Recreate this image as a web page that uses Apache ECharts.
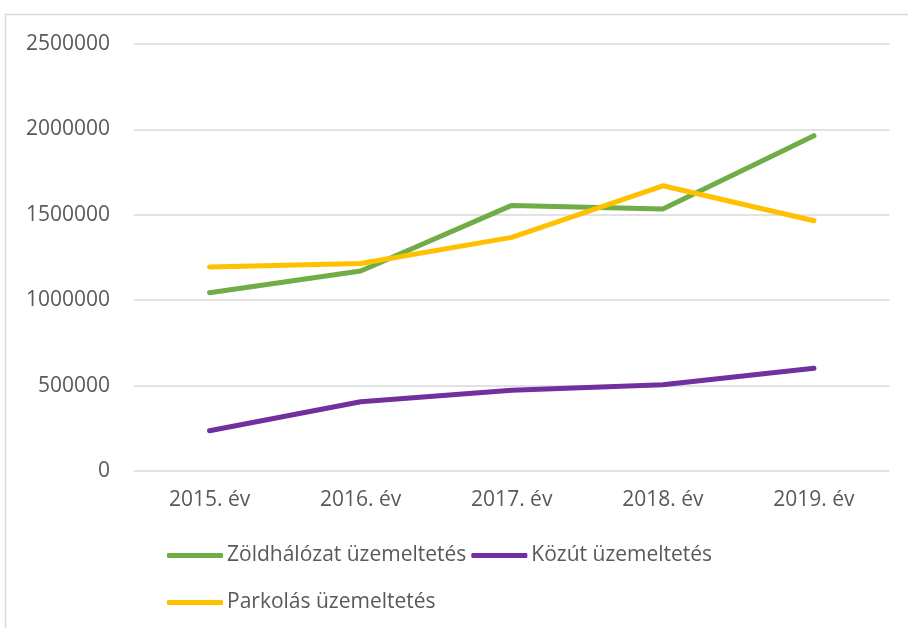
<!DOCTYPE html>
<html><head><meta charset="utf-8">
<script src="https://cdn.jsdelivr.net/npm/echarts@6/dist/echarts.min.js"></script>
<style>html,body{margin:0;padding:0;background:#fff}#c{width:908px;height:628px}</style>
</head><body><div id="c"></div>
<script>
const categories = ['2015. év', '2016. év', '2017. év', '2018. év', '2019. év'];
const zoldhalozat = [1044000, 1171000, 1555000, 1534000, 1963000];
const kozut = [236000, 405000, 473000, 505000, 602000];
const parkolas = [1195000, 1215000, 1368000, 1670000, 1465000];
const yTicks = [0, 500000, 1000000, 1500000, 2000000, 2500000];
const seriesNames = ['Zöldhálózat üzemeltetés', 'Közút üzemeltetés', 'Parkolás üzemeltetés'];

const FONT = 'Open Sans';
const TXT = '#595959';
const FS = 21;
const chart = echarts.init(document.getElementById('c'), null, {renderer: 'canvas'});
const lineSeries = (name, data, color) => ({
  name, type: 'line', data, symbol: 'none', smooth: false,
  lineStyle: {color, width: 5, cap: 'round', join: 'round'},
  itemStyle: {color}, emphasis: {disabled: true}
});
const legendBase = {
  orient: 'horizontal', icon: 'roundRect', itemWidth: 56, itemHeight: 5, itemGap: 5,
  textStyle: {color: TXT, fontFamily: FONT, fontSize: FS, padding: [0, 0, 0, -1]}
};
chart.setOption({
  animation: false,
  backgroundColor: '#fff',
  graphic: [{
    type: 'polyline', silent: true,
    shape: {points: [[5.5, 640], [5.5, 14.5], [920, 14.5]]},
    style: {stroke: '#D9D9D9', lineWidth: 1.5, fill: null}
  }],
  grid: {left: 134, right: 18.5, top: 44, bottom: 157},
  xAxis: {
    type: 'category', data: categories, boundaryGap: true,
    axisLine: {show: false}, axisTick: {show: false},
    axisLabel: {color: TXT, fontFamily: FONT, fontSize: FS, margin: 19}
  },
  yAxis: {
    type: 'value', min: yTicks[0], max: yTicks[yTicks.length - 1], interval: yTicks[1] - yTicks[0],
    axisLine: {show: false}, axisTick: {show: false},
    axisLabel: {color: TXT, fontFamily: FONT, fontSize: FS, margin: 24, formatter: v => String(v)},
    splitLine: {lineStyle: {color: '#D9D9D9', width: 1.5}}
  },
  legend: [
    Object.assign({}, legendBase, {data: [seriesNames[0], seriesNames[1]], left: 162, top: 540}),
    Object.assign({}, legendBase, {data: [seriesNames[2]], left: 162, top: 587})
  ],
  series: [
    lineSeries(seriesNames[0], zoldhalozat, '#70AD47'),
    lineSeries(seriesNames[1], kozut, '#7030A0'),
    lineSeries(seriesNames[2], parkolas, '#FFC000')
  ]
});
</script></body></html>
